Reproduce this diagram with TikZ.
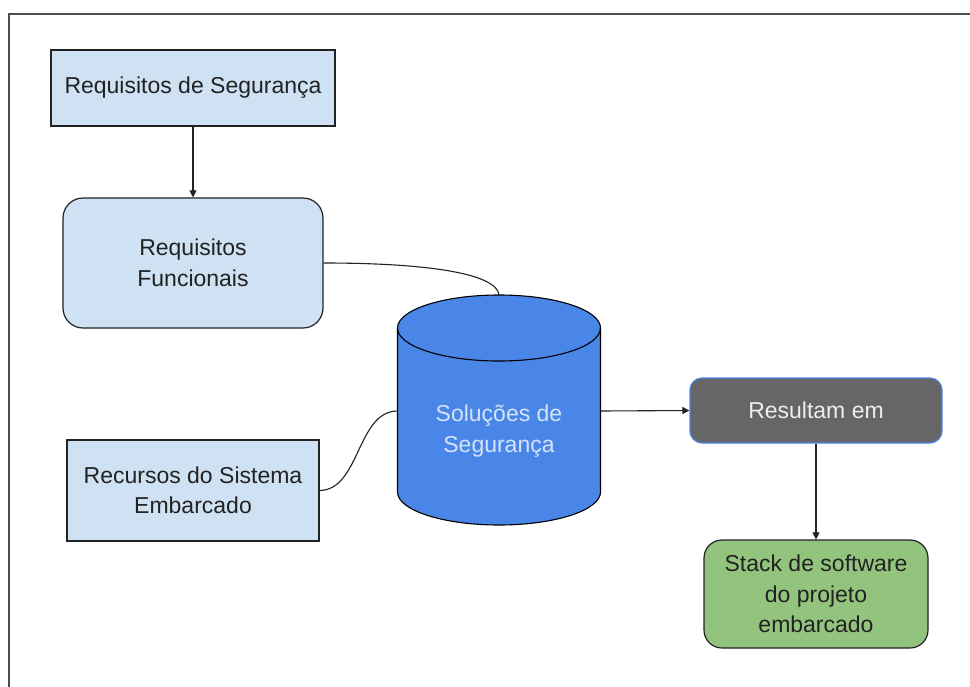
\documentclass[tikz,border=0pt]{standalone}
\usepackage{fontspec}
\setmainfont{Liberation Sans}
\usetikzlibrary{arrows.meta}
\definecolor{paleblue}{HTML}{CFE2F3}
\definecolor{dbblue}{HTML}{4A86E8}
\definecolor{dbtext}{HTML}{D4E3FA}
\definecolor{darkgrey}{HTML}{666666}
\definecolor{lighttext}{HTML}{EEEEEE}
\definecolor{leafgreen}{HTML}{93C47D}
\definecolor{framegrey}{HTML}{4D4D4D}
\definecolor{inkdark}{HTML}{222222}

\begin{document}
\begin{tikzpicture}[x=1pt,y=-1pt,
  font=\fontsize{23}{30.5}\selectfont,
  box/.style={draw=inkdark, line width=1.2pt, fill=paleblue, inner sep=0pt,
    align=center, text=inkdark},
  roundbox/.style={box, rounded corners=20pt},
  resultbox/.style={draw=dbblue, line width=1.2pt, fill=darkgrey, text=lighttext,
    rounded corners=12pt, inner sep=0pt, align=center},
  stackbox/.style={draw=inkdark, line width=1.2pt, fill=leafgreen, text=inkdark,
    rounded corners=18pt, inner sep=0pt, align=center},
  link/.style={draw=inkdark, line width=1.1pt},
  arrowlink/.style={link, -{Triangle[length=7pt,width=7pt]}}]

\useasboundingbox (0,0) rectangle (970,686);

% outer frame (only top and left edges fall inside the page)
\draw[framegrey, line width=2pt] (9,700) -- (9,14) -- (980,14);

% boxes
\node[box, minimum width=284pt, minimum height=76pt] (seg) at (193,88)
  {Requisitos de Segurança};
\node[roundbox, minimum width=260pt, minimum height=130pt] (func) at (193,263)
  {Requisitos\\Funcionais};
\node[box, minimum width=252pt, minimum height=101pt] (rec) at (193,490.5)
  {Recursos do Sistema\\Embarcado};
\node[resultbox, minimum width=252pt, minimum height=65pt] (res) at (816,410.5)
  {Resultam em};
\node[stackbox, minimum width=224pt, minimum height=108pt] (stack) at (816,594)
  {Stack de software\\do projeto\\embarcado};

% database cylinder
\filldraw[fill=dbblue, draw=black, line width=1.1pt]
  (397.5,328) -- (397.5,492)
  arc[start angle=180, end angle=360, x radius=101.5pt, y radius=33pt]
  -- (600.5,328)
  arc[start angle=0, end angle=180, x radius=101.5pt, y radius=33pt] -- cycle;
\draw[black, line width=1.1pt] (397.5,328)
  arc[start angle=180, end angle=360, x radius=101.5pt, y radius=33pt];
\node[text=dbtext, align=center] (db) at (499,431) {Soluções de\\Segurança};
\coordinate (dbtop) at (499,295);
\coordinate (dbwest) at (397.5,411);
\coordinate (dbeast) at (600.5,411);

% connectors
\draw[arrowlink] (seg.south) -- (func.north);
\draw[link] (func.east) .. controls (430,263) and (497,274) .. (dbtop);
\draw[link] (rec.east) .. controls (360,490) and (357,411) .. (dbwest);
\draw[arrowlink] (dbeast) -- (res.west);
\draw[arrowlink] (res.south) -- (stack.north);
\end{tikzpicture}
\end{document}
